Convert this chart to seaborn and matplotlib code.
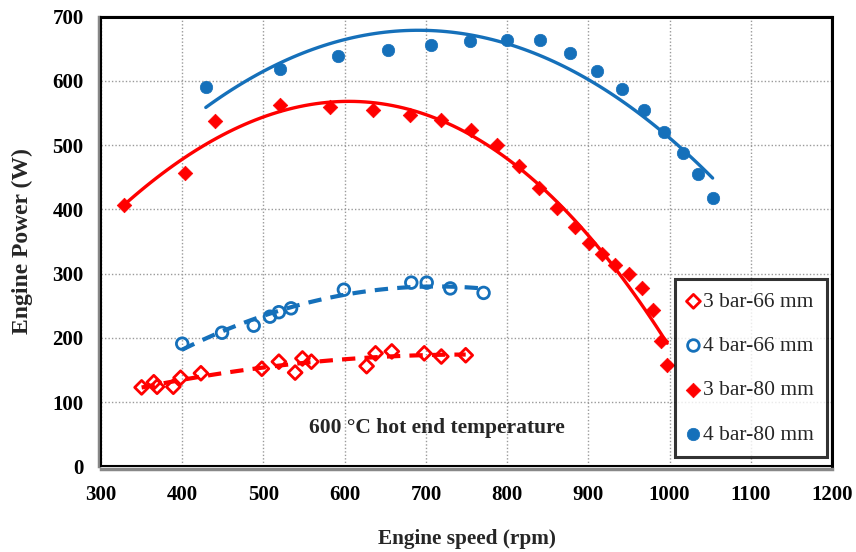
import numpy as np
import pandas as pd
import matplotlib
matplotlib.use("Agg")
import matplotlib.pyplot as plt
import seaborn as sns
from matplotlib.patches import Rectangle

# ---- data ----
rpm_3bar_66 = [350, 365, 369, 389, 398, 423, 498, 519, 539, 548, 559, 627, 638, 658, 698, 719, 749]
pow_3bar_66 = [123, 131, 124, 124, 138, 145, 152, 163, 146, 168, 163, 156, 176, 179, 176, 171, 173]

rpm_4bar_66 = [400, 449, 488, 508, 519, 534, 599, 682, 701, 730, 771]
pow_4bar_66 = [191, 208, 219, 233, 240, 246, 275, 286, 286, 277, 270]

rpm_3bar_80 = [328, 403, 440, 520, 582, 635, 680, 719, 756, 788, 814, 839, 862, 883,
               901, 917, 933, 950, 966, 980, 990, 997]
pow_3bar_80 = [407, 456, 538, 562, 560, 555, 547, 539, 523, 500, 468, 434, 402, 373,
               348, 330, 314, 300, 278, 243, 195, 158]

rpm_4bar_80 = [429, 520, 592, 653, 706, 754, 800, 841, 878, 911, 942, 969, 993, 1016, 1035, 1053]
pow_4bar_80 = [590, 619, 639, 648, 656, 662, 664, 663, 643, 616, 588, 555, 521, 488, 455, 417]

labels = ["3 bar-66 mm", "4 bar-66 mm", "3 bar-80 mm", "4 bar-80 mm"]
x_ticks = [300, 400, 500, 600, 700, 800, 900, 1000, 1100, 1200]
y_ticks = [0, 100, 200, 300, 400, 500, 600, 700]

RED = "#FF0000"
BLUE = "#1570BA"

sns.set_style("white")
plt.rcParams["font.family"] = ["Liberation Serif", "DejaVu Serif"]

fig = plt.figure(figsize=(8.56, 5.52), dpi=100)
ax = fig.add_axes([0.118, 0.155, 0.854, 0.815])

series = [
    (rpm_3bar_66, pow_3bar_66, RED, "D", False, 2, "--"),
    (rpm_4bar_66, pow_4bar_66, BLUE, "o", False, 2, "--"),
    (rpm_3bar_80, pow_3bar_80, RED, "D", True, 3, "-"),
    (rpm_4bar_80, pow_4bar_80, BLUE, "o", True, 2, "-"),
]

handles = []
for (xs, ys, col, mk, filled, order, ls), lab in zip(series, labels):
    df = pd.DataFrame({"x": xs, "y": ys})
    lkw = {"color": col, "lw": 2.4 if ls == "-" else 3.0, "zorder": 3}
    if ls == "--":
        lkw["dashes"] = (3.2, 2.2)
    sns.regplot(data=df, x="x", y="y", order=order, ci=None, scatter=False,
                ax=ax, line_kws=lkw, truncate=True)
    if filled:
        ms = 80 if mk == "o" else 55
        h = ax.scatter(xs, ys, s=ms, marker=mk, facecolor=col, edgecolor=col,
                       linewidths=0.5, zorder=4, label=lab)
    else:
        ms = 70 if mk == "o" else 50
        h = ax.scatter(xs, ys, s=ms, marker=mk, facecolor="none", edgecolor=col,
                       linewidths=2.0, zorder=4, label=lab)
    handles.append(h)

ax.set_xlim(300, 1200)
ax.set_ylim(0, 700)
ax.set_xticks(x_ticks)
ax.set_yticks(y_ticks)

ax.grid(True, color="#9a9a9a", linestyle=(0, (1, 1.5)), linewidth=1.0)
ax.set_axisbelow(True)

for s in ["top", "right"]:
    ax.spines[s].set_color("black")
    ax.spines[s].set_linewidth(2.2)
for s in ["left", "bottom"]:
    ax.spines[s].set_color("#888888")
    ax.spines[s].set_linewidth(2.5)
    ax.spines[s].set_position(("outward", 1.5))
ax.add_patch(Rectangle((0, 0), 1, 1, transform=ax.transAxes, fill=False,
                       edgecolor="black", lw=1.5, zorder=5, clip_on=False))
ax.tick_params(axis="both", direction="out", length=5, width=1.5, color="#888888",
               labelcolor="black", pad=6, labelsize=15)
ax.tick_params(axis="x", pad=7)
ax.set_xticklabels([str(v) for v in x_ticks])
ax.set_yticklabels([str(v) for v in y_ticks])
for lbl in ax.get_xticklabels() + ax.get_yticklabels():
    lbl.set_fontweight("bold")
    lbl.set_fontsize(15)

ax.set_xlabel("Engine speed (rpm)", fontweight="bold", fontsize=15.3)
ax.xaxis.label.set_verticalalignment("center")
ax.xaxis.set_label_coords(0.5, -0.162)
ax.set_ylabel("Engine Power (W)", fontweight="bold", fontsize=17)
ax.yaxis.label.set_verticalalignment("center")
ax.yaxis.set_label_coords(-0.108, 0.5)

ax.text(0.46, 0.085, "600 °C hot end temperature", transform=ax.transAxes,
        ha="center", va="center", fontweight="bold", fontsize=15.5)

leg = ax.legend(handles=handles, labels=labels, loc="lower right",
                bbox_to_anchor=(0.993, 0.02), fontsize=15.5, frameon=True,
                fancybox=False, edgecolor="black", handlelength=0.5,
                handletextpad=0.2, labelspacing=1.12, borderpad=0.6,
                borderaxespad=0.0)
leg.get_frame().set_linewidth(2.2)
leg.set_zorder(6)

fig.savefig("out.png", dpi=100)
